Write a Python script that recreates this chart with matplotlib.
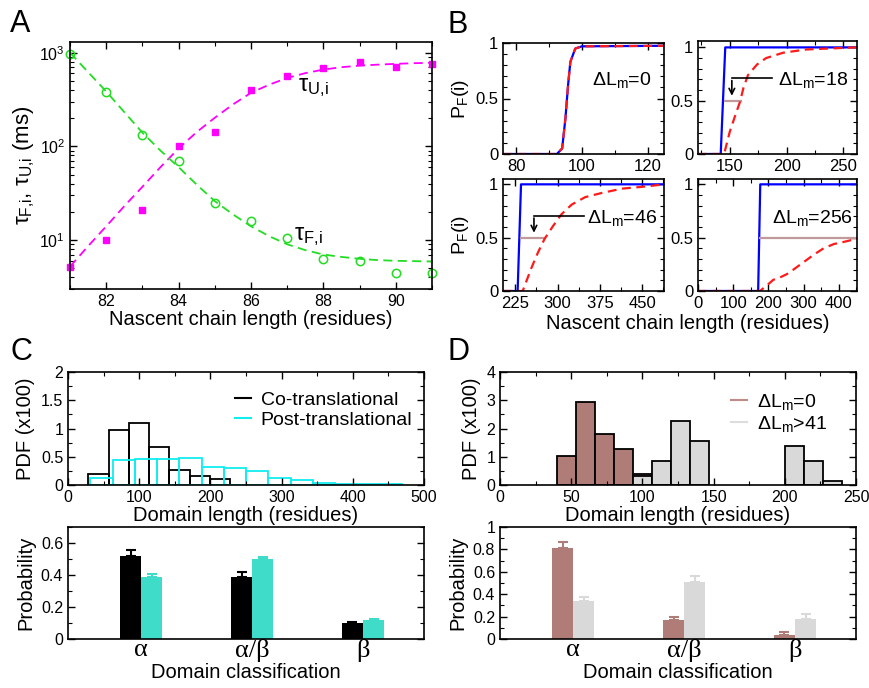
import matplotlib
matplotlib.use('Agg')
import matplotlib.pyplot as plt
from matplotlib.ticker import MultipleLocator, LogLocator, NullFormatter
from matplotlib.lines import Line2D

plt.rcParams['font.family'] = ['Liberation Sans', 'DejaVu Sans']
plt.rcParams['mathtext.fontset'] = 'custom'
plt.rcParams['mathtext.rm'] = 'Liberation Sans'
plt.rcParams['mathtext.it'] = 'Liberation Sans:italic'
plt.rcParams['mathtext.bf'] = 'Liberation Sans:bold'
plt.rcParams['mathtext.default'] = 'regular'

# ---- Panel A: folding / unfolding times
chain_len = [81, 82, 83, 84, 85, 86, 87, 88, 89, 90, 91]
tau_u = [5.2, 10, 21, 100, 141, 395, 570, 680, 790, 710, 760]
tau_f = [970, 378, 133, 70, 25, 15.8, 10.5, 6.3, 6.0, 4.5, 4.5]
fit_len = [81, 81.5, 82, 82.5, 83, 83.5, 84, 84.5, 85, 85.5, 86,
           86.5, 87, 87.5, 88, 88.5, 89, 89.5, 90, 90.5, 91]
tau_u_fit = [5.2, 8.6, 14, 23, 37, 60, 95, 142, 202, 280, 373,
             455, 537, 605, 660, 700, 727, 745, 760, 772, 780]
tau_f_fit = [1000, 620, 385, 232, 140, 90, 60, 39, 26, 18.8, 14,
             11, 9.0, 7.8, 7.0, 6.6, 6.3, 6.1, 6.0, 5.95, 5.9]

# ---- Panel B: P_F(i) curves (blue = solid, red = dashed, brown = 0.5 level)
b0_x = [76, 92.4, 94, 95, 95.8, 96.5, 98, 100, 125]
b0_y = [0, 0, 0.05, 0.32, 0.62, 0.83, 0.95, 0.97, 0.975]

b18_blue_x = [122, 142, 146, 262]
b18_blue_y = [0, 0, 1, 1]
b18_red_x = [122, 145, 150, 156, 159, 162, 166, 174, 182, 197, 217, 238, 262]
b18_red_y = [0, 0, 0.21, 0.40, 0.49, 0.62, 0.74, 0.84, 0.90, 0.95, 0.98, 0.99, 1.0]
b18_half = [146, 160]

b46_blue_x = [203, 229, 235, 489]
b46_blue_y = [0, 0, 1, 1]
b46_red_x = [203, 238, 253, 265, 277, 292, 307, 325, 349, 379, 415, 457, 489]
b46_red_y = [0, 0, 0.21, 0.36, 0.49, 0.61, 0.72, 0.81, 0.88, 0.92, 0.96, 0.98, 1.0]
b46_half = [235, 277]

b256_blue_x = [0, 171, 177, 452]
b256_blue_y = [0, 0, 1, 1]
b256_red_x = [0, 176, 195, 214, 233, 252, 271, 300, 329, 357, 386, 414, 452]
b256_red_y = [0, 0, 0.05, 0.105, 0.127, 0.157, 0.20, 0.27, 0.34, 0.40, 0.44, 0.46, 0.49]
b256_half = [177, 452]

# ---- Panel C: domain length PDFs and class probabilities
co_edges = [28, 57, 85, 114, 142, 171, 199, 228]
co_pdf = [0.2, 0.98, 1.09, 0.67, 0.26, 0.16, 0.11]
post_edges = [31, 62.5, 94, 125, 156, 188, 219, 250, 281, 313, 344, 375, 406, 438, 469]
post_pdf = [0.13, 0.45, 0.46, 0.46, 0.47, 0.32, 0.30, 0.24, 0.13, 0.08, 0.03, 0.02, 0.02, 0.02]

classes = ['α', 'α/β', 'β']
co_prob = [0.52, 0.39, 0.10]
co_err = [0.035, 0.03, 0.006]
post_prob = [0.39, 0.50, 0.12]
post_err = [0.015, 0.013, 0.003]

# ---- Panel D
dl0_left = [40, 53.3, 66.7, 80, 93.3]
dl0_pdf = [1.04, 2.94, 1.79, 1.27, 0.40]
dl41_left = [93.3, 106.7, 120, 133.3, 200, 213.3, 226.7]
dl41_pdf = [0.32, 0.86, 2.26, 1.57, 1.39, 0.86, 0.14]
d_width = 13.33

dl0_prob = [0.81, 0.17, 0.04]
dl0_err = [0.055, 0.028, 0.024]
dl41_prob = [0.34, 0.51, 0.175]
dl41_err = [0.035, 0.05, 0.045]

W, H = 869, 688


def box(l, t, r, b):
    return [l / W, 1 - b / H, (r - l) / W, (b - t) / H]


def style(ax, size=11.5):
    ax.tick_params(which='both', direction='in', top=True, right=True, labelsize=size)
    ax.tick_params(which='major', length=5, width=1)
    ax.tick_params(which='minor', length=3, width=0.8)
    for s in ax.spines.values():
        s.set_linewidth(1.2)


fig = plt.figure(figsize=(W / 100, H / 100), dpi=100)

# ================= A
axA = fig.add_axes(box(70, 42, 432, 289))
axA.set_yscale('log')
axA.plot(fit_len, tau_u_fit, '--', color='#ff00ff', lw=1.3, dashes=(5, 3))
axA.plot(fit_len, tau_f_fit, '--', color='#22dd22', lw=1.3, dashes=(5, 3))
axA.plot(chain_len, tau_u, 's', color='#ff00ff', ms=5, clip_on=False)
axA.plot(chain_len, tau_f, 'o', mfc='none', mec='#22dd22', ms=6, mew=1.1, clip_on=False)
axA.set_xlim(81, 91)
axA.set_ylim(3, 1300)
axA.xaxis.set_major_locator(MultipleLocator(2))
axA.xaxis.set_minor_locator(MultipleLocator(1))
axA.yaxis.set_major_locator(LogLocator(base=10, numticks=10))
axA.yaxis.set_minor_locator(LogLocator(base=10, subs=range(2, 10), numticks=10))
axA.yaxis.set_minor_formatter(NullFormatter())
style(axA)
axA.set_xlabel('Nascent chain length (residues)', fontsize=14.5, labelpad=1)
axA.set_ylabel(r'$\tau_{F{,}i}$, $\tau_{U{,}i}$ (ms)', fontsize=16, labelpad=2)
axA.text(87.3, 420, r'$\tau_{U{,}i}$', fontsize=17, va='center')
axA.text(87.2, 11, r'$\tau_{F{,}i}$', fontsize=17, va='center')

# ================= B
def bpanel(rect, xlim, ylim, major, minor):
    ax = fig.add_axes(rect)
    ax.set_xlim(*xlim)
    ax.set_ylim(*ylim)
    ax.xaxis.set_major_locator(MultipleLocator(major))
    ax.xaxis.set_minor_locator(MultipleLocator(minor))
    ax.yaxis.set_major_locator(MultipleLocator(0.5))
    ax.yaxis.set_minor_locator(MultipleLocator(0.1))
    ax.yaxis.set_major_formatter(plt.FuncFormatter(lambda v, p: '%g' % v))
    style(ax, 12)
    return ax


def arrow(ax, x0, x1, yh, ytip):
    ax.plot([x0, x1], [yh, yh], color='k', lw=1.2)
    ax.annotate('', xy=(x1, ytip), xytext=(x1, yh + 0.005),
                arrowprops=dict(arrowstyle='->', color='k', lw=1.2))


lbl = 'ΔL$_m$=%d'
ax1 = bpanel(box(503, 43, 664, 154), (76, 125), (0, 1.0), 20, 10)
ax1.plot(b0_x, b0_y, color='#0000ff', lw=1.6)
ax1.plot(b0_x, b0_y, '--', color='#ff1a1a', lw=1.6, dashes=(4, 2.5))
ax1.text(103.2, 0.62, lbl % 0, fontsize=14)
ax1.set_ylabel('P$_F$(i)', fontsize=14, labelpad=3)

ax2 = bpanel(box(698, 41, 857, 154), (122, 262), (0, 1.06), 50, 25)
ax2.plot(b18_blue_x, b18_blue_y, color='#0000ff', lw=1.6)
ax2.plot(b18_half, [0.5, 0.5], color='#c09a9a', lw=1.6)
ax2.plot(b18_red_x, b18_red_y, '--', color='#ff1a1a', lw=1.6, dashes=(4, 2.5))
arrow(ax2, 187, 151.8, 0.71, 0.52)
ax2.text(192, 0.65, lbl % 18, fontsize=14)

ax3 = bpanel(box(503, 179, 664, 291), (203, 489), (0, 1.05), 75, 37.5)
ax3.plot(b46_blue_x, b46_blue_y, color='#0000ff', lw=1.6)
ax3.plot(b46_half, [0.5, 0.5], color='#c09a9a', lw=1.6)
ax3.plot(b46_red_x, b46_red_y, '--', color='#ff1a1a', lw=1.6, dashes=(4, 2.5))
arrow(ax3, 346, 258, 0.705, 0.52)
ax3.text(352, 0.64, lbl % 46, fontsize=14)
ax3.set_ylabel('P$_F$(i)', fontsize=14, labelpad=3)

ax4 = bpanel(box(698, 179, 857, 291), (0, 452), (0, 1.05), 100, 50)
ax4.plot(b256_blue_x, b256_blue_y, color='#0000ff', lw=1.6)
ax4.plot(b256_half, [0.5, 0.5], color='#c09a9a', lw=1.6)
ax4.plot(b256_red_x, b256_red_y, '--', color='#ff1a1a', lw=1.6, dashes=(4, 2.5))
ax4.text(210, 0.64, lbl % 256, fontsize=14)

fig.text(688 / W, 1 - 323 / H, 'Nascent chain length (residues)', fontsize=14.5,
         ha='center', va='center')

# ================= C histogram
axC = fig.add_axes(box(68, 372, 424, 485))
axC.bar(co_edges[:-1], co_pdf, width=[b - a for a, b in zip(co_edges[:-1], co_edges[1:])],
        align='edge', fill=False, edgecolor='black', lw=1.3)
axC.bar(post_edges[:-1], post_pdf, width=[b - a for a, b in zip(post_edges[:-1], post_edges[1:])],
        align='edge', fill=False, edgecolor='#10eef0', lw=1.3)
axC.set_xlim(0, 500)
axC.set_ylim(0, 2)
axC.xaxis.set_major_locator(MultipleLocator(100))
axC.xaxis.set_minor_locator(MultipleLocator(50))
axC.yaxis.set_major_locator(MultipleLocator(0.5))
axC.yaxis.set_minor_locator(MultipleLocator(0.25))
axC.yaxis.set_major_formatter(plt.FuncFormatter(lambda v, p: '%g' % v))
style(axC)
axC.set_xlabel('Domain length (residues)', fontsize=14.5, labelpad=1)
axC.set_ylabel('PDF (x100)', fontsize=14.5, labelpad=4)
axC.legend(handles=[Line2D([], [], color='black', lw=1.5),
                    Line2D([], [], color='#10eef0', lw=1.5)],
           labels=['Co-translational', 'Post-translational'],
           loc='upper right', bbox_to_anchor=(1.0, 0.93), frameon=False, fontsize=14,
           handlelength=0.8, handletextpad=0.5, labelspacing=0.1, borderaxespad=0.2)

# ================= C bars
bw = 0.19
xs = list(range(len(classes)))


def barpanel(rect, vals1, err1, c1, ec1, vals2, err2, c2, ec2, ymax):
    ax = fig.add_axes(rect)
    ax.bar([x - bw / 2 for x in xs], vals1, width=bw, color=c1)
    ax.bar([x + bw / 2 for x in xs], vals2, width=bw, color=c2)
    ax.errorbar([x - bw / 2 for x in xs], vals1, yerr=[[0] * 3, err1], fmt='none',
                ecolor=ec1, elinewidth=1.5, capsize=3.5, capthick=1.5)
    ax.errorbar([x + bw / 2 for x in xs], vals2, yerr=[[0] * 3, err2], fmt='none',
                ecolor=ec2, elinewidth=1.5, capsize=3.5, capthick=1.5)
    ax.set_xlim(-0.66, 2.55)
    ax.set_ylim(0, ymax)
    ax.set_xticks(xs)
    ax.set_xticklabels(classes, fontsize=19, family=['Liberation Serif', 'DejaVu Serif'])
    ax.yaxis.set_major_locator(MultipleLocator(0.2))
    ax.yaxis.set_minor_locator(MultipleLocator(0.1))
    ax.yaxis.set_major_formatter(plt.FuncFormatter(lambda v, p: '%g' % round(v, 2)))
    style(ax)
    ax.tick_params(axis='x', which='both', length=0, top=False, pad=0, labelsize=19)
    ax.set_xlabel('Domain classification', fontsize=14.5, labelpad=1)
    ax.set_ylabel('Probability', fontsize=14.5, labelpad=4)
    return ax


axCb = barpanel(box(68, 527, 424, 639), co_prob, co_err, 'black', 'black',
                post_prob, post_err, '#3fdcca', '#3fdcca', 0.7)

# ================= D histogram
axD = fig.add_axes(box(500, 372, 856, 485))
axD.bar(dl0_left, dl0_pdf, width=d_width, align='edge', color='#b07c78',
        edgecolor='black', lw=1.3)
axD.bar(dl41_left, dl41_pdf, width=d_width, align='edge', color='#d9d9d9',
        edgecolor='black', lw=1.3)
axD.set_xlim(0, 250)
axD.set_ylim(0, 4)
axD.xaxis.set_major_locator(MultipleLocator(50))
axD.xaxis.set_minor_locator(MultipleLocator(25))
axD.yaxis.set_major_locator(MultipleLocator(1))
axD.yaxis.set_minor_locator(MultipleLocator(0.5))
style(axD)
axD.set_xlabel('Domain length (residues)', fontsize=14.5, labelpad=1)
axD.set_ylabel('PDF (x100)', fontsize=14.5, labelpad=4)
axD.legend(handles=[Line2D([], [], color='#c08a86', lw=1.5),
                    Line2D([], [], color='#dddddd', lw=1.5)],
           labels=['ΔL$_m$=0', 'ΔL$_m$>41'],
           loc='upper right', bbox_to_anchor=(0.95, 0.93), frameon=False, fontsize=14,
           handlelength=0.8, handletextpad=0.5, labelspacing=0.1, borderaxespad=0.2)

axDb = barpanel(box(500, 527, 856, 639), dl0_prob, dl0_err, '#b07c78', '#b07c78',
                dl41_prob, dl41_err, '#d9d9d9', '#d9d9d9', 1.0)

# panel letters
for x, y, s in [(10, 24, 'A'), (447, 25, 'B'), (10, 352, 'C'), (447, 352, 'D')]:
    fig.text(x / W, 1 - y / H, s, fontsize=22, va='center', ha='left')

fig.savefig('out.png', dpi=100)
